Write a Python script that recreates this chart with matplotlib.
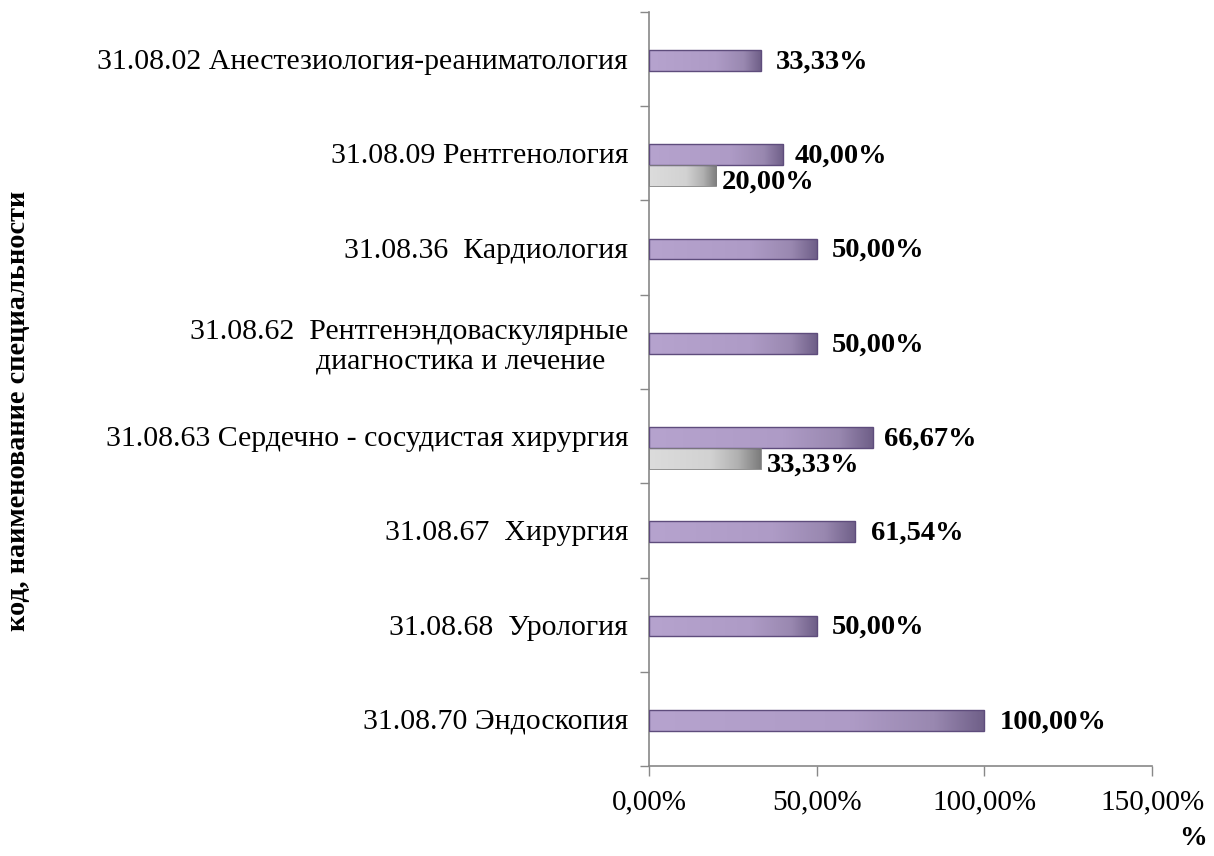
import numpy as np
import matplotlib
matplotlib.use("Agg")
import matplotlib.pyplot as plt
from matplotlib.colors import LinearSegmentedColormap

categories = [
    "31.08.02 Анестезиология-реаниматология",
    "31.08.09 Рентгенология",
    "31.08.36  Кардиология",
    "31.08.62  Рентгенэндоваскулярные\nдиагностика и лечение   ",
    "31.08.63 Сердечно - сосудистая хирургия",
    "31.08.67  Хирургия",
    "31.08.68  Урология",
    "31.08.70 Эндоскопия",
]
series1 = [33.33, 40.00, 50.00, 50.00, 66.67, 61.54, 50.00, 100.00]
series2 = [np.nan, 20.00, np.nan, np.nan, 33.33, np.nan, np.nan, np.nan]
xticks = [0, 50, 100, 150]
ylabel = "код, наименование специальности"
xlabel = "%"

plt.rcParams['font.family'] = ['Liberation Serif', 'DejaVu Serif']

fig = plt.figure(figsize=(12.14, 8.56), dpi=100)
ax = fig.add_axes([0.5346, 0.1051, 0.4145, 0.8809])

y = np.arange(len(categories))
h = 0.22
b1 = ax.barh(y + 0.015, series1, height=h, color='#b09cc8', edgecolor='#5e4c7c', linewidth=1.0, zorder=2)
s2 = np.nan_to_num(np.array(series2, dtype=float))
b2 = ax.barh(y + 0.015 + h, s2, height=h, color='#d0d0d0', edgecolor='#7f7f7f', linewidth=0.6, zorder=2)

cmap1 = LinearSegmentedColormap.from_list('p', [(0, '#b6a3ce'), (0.6, '#ae9bc6'), (0.85, '#9988b0'), (1, '#6f5f88')])
cmap2 = LinearSegmentedColormap.from_list('g', [(0, '#dcdcdc'), (0.55, '#d2d2d2'), (0.8, '#b0b0b0'), (1, '#7c7c7c')])
grad = np.linspace(0, 1, 256).reshape(1, -1)
for bars, cm in ((b1, cmap1), (b2, cmap2)):
    for r in bars:
        w = r.get_width()
        if w <= 0:
            r.set_visible(False)
            continue
        x0, y0, hh = r.get_x(), r.get_y(), r.get_height()
        im = ax.imshow(grad, cmap=cm, aspect='auto', extent=(x0, x0 + w, y0 + hh, y0), zorder=2.5)
        im.set_clip_path(r)
        r.set_facecolor('none')
        r.set_zorder(3)

def fmt(v):
    return f"{v:.2f}".replace('.', ',') + "%"

for i, (v1, v2) in enumerate(zip(series1, series2)):
    if np.isnan(v2):
        ax.annotate(fmt(v1), (v1, y[i] + 0.015), xytext=(11, -1), textcoords='offset points',
                    va='center', ha='left', fontsize=20.5, fontweight='bold', zorder=4)
    else:
        ax.annotate(fmt(v1), (v1, y[i] + 0.015), xytext=(8, -1), textcoords='offset points',
                    va='center', ha='left', fontsize=20.5, fontweight='bold', zorder=4)
        ax.annotate(fmt(v2), (v2, y[i] + 0.015 + h), xytext=(4, -5), textcoords='offset points',
                    va='center', ha='left', fontsize=20.5, fontweight='bold', zorder=4)

ax.set_xlim(0, 150)
ax.set_ylim(len(categories) - 0.5, -0.5)
ax.set_xticks(xticks)
ax.set_xticklabels([fmt(t) for t in xticks], fontsize=21)
ax.set_yticks(y)
ax.set_yticklabels(categories, fontsize=21.5)
ax.set_yticks(np.arange(len(categories) + 1) - 0.5, minor=True)
ax.tick_params(axis='y', which='major', length=0, pad=15)
ax.tick_params(axis='y', which='minor', length=6.5, color='#888888', width=1)
ax.tick_params(axis='x', which='major', length=7, color='#888888', width=1, pad=10, direction='out')

for s in ('top', 'right'):
    ax.spines[s].set_visible(False)
for s in ('left', 'bottom'):
    ax.spines[s].set_color('#888888')
    ax.spines[s].set_linewidth(1.2)

fig.text(0.015, 0.52, ylabel, rotation=90, ha='center', va='center', fontsize=20.3, fontweight='bold')
fig.text(0.9945, 0.006, xlabel, ha='right', va='bottom', fontsize=20, fontweight='bold')

fig.savefig('out.png', dpi=100)
